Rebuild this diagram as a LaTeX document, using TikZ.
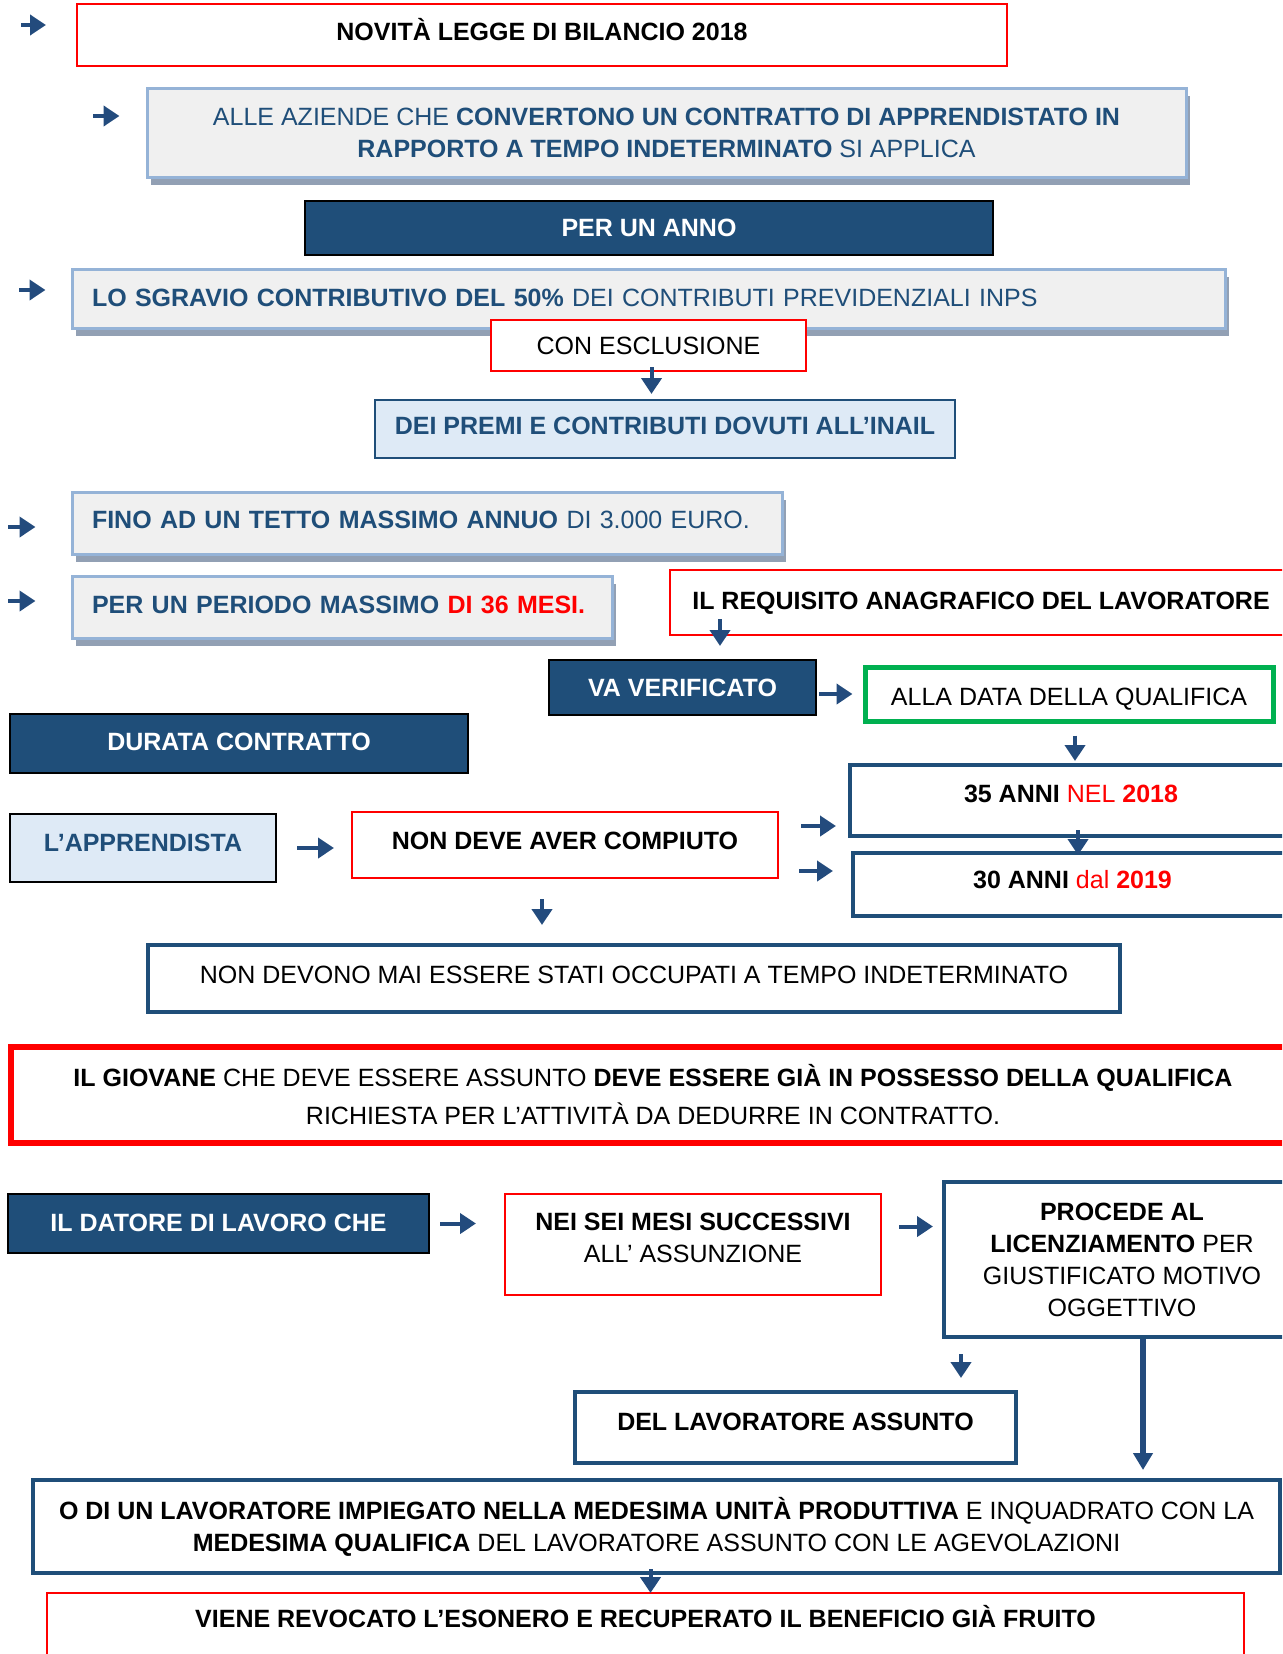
\documentclass[tikz,border=0pt]{standalone}
\usepackage{fontspec}
\setmainfont{Liberation Sans}
\usetikzlibrary{positioning,arrows.meta,shadows}

\definecolor{navy}{RGB}{31,78,121}
\definecolor{pale}{RGB}{240,240,240}
\definecolor{edgeblue}{RGB}{149,179,215}
\definecolor{shade}{RGB}{146,160,180}
\definecolor{ice}{RGB}{222,234,246}
\definecolor{leaf}{RGB}{0,176,80}
\definecolor{arrowc}{RGB}{35,75,125}

\newcommand{\fsz}{\fontsize{25}{32}\selectfont}

\tikzset{
  every node/.style={font=\fsz, inner sep=0pt, align=center},
  up/.style={text height=18pt, text depth=#1},
  redbox/.style={draw=red, line width=2pt, fill=white},
  navybox/.style={draw=black, line width=2pt, fill=navy, text=white, font=\fsz\bfseries},
  graybox/.style={draw=edgeblue, line width=3pt, fill=pale, text=navy,
    drop shadow={shadow xshift=4pt, shadow yshift=-8pt, fill=shade, opacity=1}},
  leftbox/.style={graybox, align=left, inner xsep=20pt, text width=#1},
  icebox/.style={line width=2pt, fill=ice, text=navy, font=\fsz\bfseries},
  bluebox/.style={draw=navy, line width=4pt, fill=white},
  greenbox/.style={draw=leaf, line width=5pt, fill=white},
  blk/.style={draw=arrowc, line width=4pt, -{Triangle[length=16pt,width=20pt]}},
  bigblk/.style={draw=arrowc, line width=6pt, -{Triangle[length=17pt,width=19pt]}},
}

\begin{document}
\begin{tikzpicture}[x=1pt,y=-1pt]
\useasboundingbox (0,0) rectangle (1282,1654);
\clip (0,0) rectangle (1282,1654);

\node[redbox, up=6pt, minimum width=930, minimum height=62, font=\fsz\bfseries] (nov) at (542,35) {NOVITÀ LEGGE DI BILANCIO 2018};
\node[graybox, minimum width=1039, minimum height=89] (alle) at (666.5,132.5)
  {ALLE AZIENDE CHE \textbf{CONVERTONO UN CONTRATTO DI APPRENDISTATO IN}\\ \textbf{RAPPORTO A TEMPO INDETERMINATO} SI APPLICA};
\node[navybox, minimum width=688, minimum height=54] (anno) at (649,228) {PER UN ANNO};
\node[leftbox=1113, up=2pt, minimum height=59] (sgr) at (648.5,298.5)
  {\textbf{LO SGRAVIO CONTRIBUTIVO DEL 50\%} DEI CONTRIBUTI PREVIDENZIALI INPS};
\node[redbox, minimum width=315, minimum height=51] (escl) at (648.5,345.5) {CON ESCLUSIONE};
\node[icebox, up=8pt, draw=navy, minimum width=580, minimum height=58] (premi) at (665,429) {DEI PREMI E CONTRIBUTI DOVUTI ALL’INAIL};
\node[leftbox=670, up=8pt, minimum height=62] (fino) at (427,523) {\textbf{FINO AD UN TETTO MASSIMO ANNUO} DI 3.000 EURO.};
\node[leftbox=500, up=6pt, minimum height=62] (per) at (342,607) {\textbf{PER UN PERIODO MASSIMO \textcolor{red}{DI 36 MESI.}}};
\node[redbox, up=4pt, minimum width=622, minimum height=65, font=\fsz\bfseries] (req) at (981,602.5) {IL REQUISITO ANAGRAFICO DEL LAVORATORE};
\node[navybox, minimum width=267, minimum height=55] (vaver) at (682.5,687.5) {VA VERIFICATO};
\node[greenbox, text height=22pt, text depth=0pt, minimum width=408, minimum height=54] (alla) at (1069,694) {ALLA DATA DELLA QUALIFICA};
\node[navybox, up=4pt, minimum width=458, minimum height=59] (durata) at (239,743.5) {DURATA CONTRATTO};
\node[bluebox, up=14pt, minimum width=442, minimum height=71] (a35) at (1071,800.5) {\textbf{35 ANNI} \textcolor{red}{NEL \textbf{2018}}};
\node[bluebox, up=10pt, minimum width=439, minimum height=63] (a30) at (1072.5,884.5) {\textbf{30 ANNI} \textcolor{red}{dal \textbf{2019}}};
\node[icebox, up=12pt, draw=black, minimum width=266, minimum height=68] (appr) at (143,848) {L’APPRENDISTA};
\node[redbox, up=10pt, minimum width=426, minimum height=66, font=\fsz\bfseries] (nondeve) at (565,845) {NON DEVE AVER COMPIUTO};
\node[bluebox, up=8pt, minimum width=972, minimum height=67] (mai) at (634,978.5) {NON DEVONO MAI ESSERE STATI OCCUPATI A TEMPO INDETERMINATO};
\node[redbox, line width=6pt, minimum width=1284, minimum height=96] (giov) at (653,1095)
  {\textbf{IL GIOVANE} CHE DEVE ESSERE ASSUNTO \textbf{DEVE ESSERE GIÀ IN POSSESSO DELLA QUALIFICA}\\[6pt] RICHIESTA PER L’ATTIVITÀ DA DEDURRE IN CONTRATTO.};
\node[navybox, up=2pt, minimum width=421, minimum height=59] (datore) at (218.5,1223.5) {IL DATORE DI LAVORO CHE};
\node[redbox, text height=50pt, text depth=15pt, minimum width=376, minimum height=101] (sei) at (693,1244.5) {\textbf{NEI SEI MESI SUCCESSIVI}\\ ALL’ ASSUNZIONE};
\node[bluebox, minimum width=356, minimum height=155] (proc) at (1122,1259.5)
  {\textbf{PROCEDE AL}\\ \textbf{LICENZIAMENTO} PER\\ GIUSTIFICATO MOTIVO\\ OGGETTIVO};
\node[bluebox, up=12pt, minimum width=441, minimum height=71, font=\fsz\bfseries] (assunto) at (795.5,1427.5) {DEL LAVORATORE ASSUNTO};
\node[bluebox, minimum width=1247, minimum height=93] (odi) at (656.5,1526.5)
  {\textbf{O DI UN LAVORATORE IMPIEGATO NELLA MEDESIMA UNITÀ PRODUTTIVA} E INQUADRATO CON LA\\ \textbf{MEDESIMA QUALIFICA} DEL LAVORATORE ASSUNTO CON LE AGEVOLAZIONI};
\node[redbox, up=16pt, minimum width=1197, minimum height=67, font=\fsz\bfseries] (viene) at (645.5,1626.5) {VIENE REVOCATO L’ESONERO E RECUPERATO IL BENEFICIO GIÀ FRUITO};

\coordinate (s1) at (21,25);
\coordinate (s2) at (93,116);
\coordinate (s3) at (19,290);
\coordinate (s4) at (8,527);
\coordinate (s5) at (8,601);
\draw[blk, shorten >=30pt] (s1) -- (s1 -| nov.west);
\draw[blk, shorten >=26pt] (s2) -- (s2 -| alle.west);
\draw[blk, shorten >=25pt] (s3) -- (s3 -| sgr.west);
\draw[blk, shorten >=35pt] (s4) -- (s4 -| fino.west);
\draw[blk, shorten >=35pt] (s5) -- (s5 -| per.west);

\draw[blk, shorten <=-5pt, shorten >=5pt] ([xshift=3pt]escl.south) -- ([xshift=3pt]escl.south |- premi.north);
\coordinate (r1) at ([shift={(51,-17)}]req.south west);
\draw[blk, shorten >=13pt] (r1) -- (r1 |- vaver.north);
\draw[blk, shorten <=2pt, shorten >=10pt] (vaver.east |- alla.west) -- (alla.west);
\draw[blk, shorten <=12pt, shorten >=2pt] ([xshift=6pt]alla.south) -- ([xshift=6pt]alla.south |- a35.north);
\draw[blk, shorten <=20pt, shorten >=17pt] (appr.east) -- (appr.east -| nondeve.west);
\draw[blk, shorten <=22pt, shorten >=12pt] ([yshift=19pt]nondeve.east) -- ([yshift=19pt]nondeve.east -| a35.west);
\draw[blk, shorten <=20pt, shorten >=18pt] ([yshift=-26pt]nondeve.east) -- ([yshift=-26pt]nondeve.east -| a30.west);
\draw[blk, shorten <=-8pt, shorten >=-4pt] ([xshift=7pt]a35.south) -- ([xshift=7pt]a35.south |- a30.north);
\draw[blk, shorten <=20pt, shorten >=18pt] ([xshift=-23pt]nondeve.south) -- ([xshift=-23pt]nondeve.south |- mai.north);

\draw[blk, shorten <=10pt, shorten >=28pt] (datore.east) -- (datore.east -| sei.west);
\draw[blk, shorten <=17pt, shorten >=9pt] ([yshift=18pt]sei.east) -- ([yshift=18pt]sei.east -| proc.west);
\coordinate (d1) at ([shift={(19,15)}]proc.south west);
\draw[blk, shorten >=12pt] (d1) -- (d1 |- assunto.north);
\draw[bigblk, shorten >=8pt] ([xshift=21pt]proc.south) -- ([xshift=21pt]proc.south |- odi.north);
\draw[blk, shorten <=-6pt, shorten >=-1pt] ([xshift=-6pt]odi.south) -- ([xshift=-6pt]odi.south |- viene.north);
\end{tikzpicture}
\end{document}
